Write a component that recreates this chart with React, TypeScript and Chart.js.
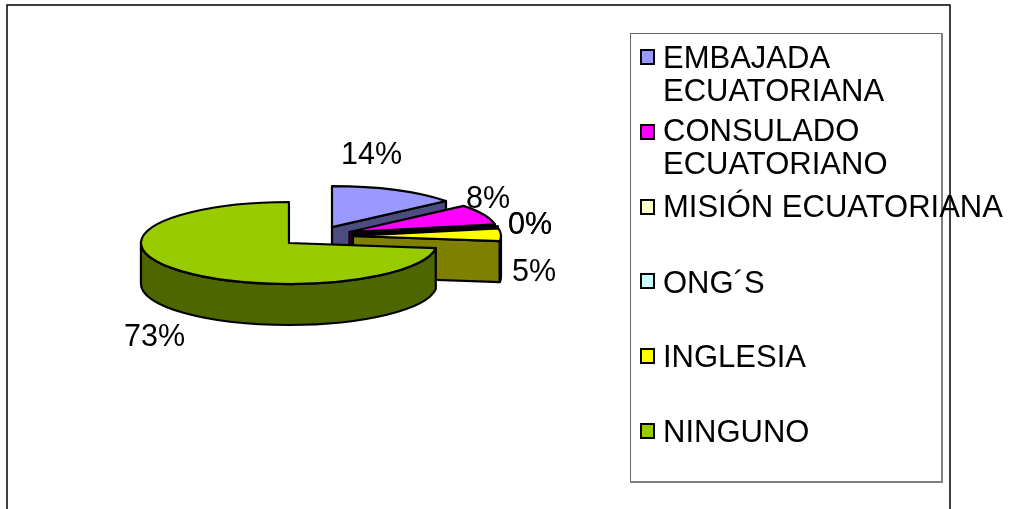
import React, { useEffect, useRef } from "react";
import { Chart, registerables } from "chart.js";

Chart.register(...registerables);

const categories = ["EMBAJADA ECUATORIANA", "CONSULADO ECUATORIANO", "MISIÓN ECUATORIANA", "ONG´S", "INGLESIA", "NINGUNO"];
const legendLines = [["EMBAJADA", "ECUATORIANA"], ["CONSULADO", "ECUATORIANO"], ["MISIÓN ECUATORIANA"], ["ONG´S"], ["INGLESIA"], ["NINGUNO"]];
const values = [14, 8, 0, 0, 5, 73];
const pctLabels = ["14%", "8%", "0%", "0%", "5%", "73%"];
const topColors = ["#9999FF", "#FF00FF", "#FFFFCC", "#CCFFFF", "#FFFF00", "#99CC00"];
const wallColors = ["#4C4C80", "#800080", "#808066", "#668080", "#808000", "#4D6600"];

// layout of the 3D view
const RADIUS = 148;
const SQUASH = 41 / 148;
const DEPTH = 41;
const EXPLODE = 36.6;
const CX = 316.4;
const CY = 236.3;
const LEGEND_FONT = '31px "Liberation Sans", Arial, sans-serif';
const LABEL_FONT = '30.5px "Liberation Sans", Arial, sans-serif';
const labelX = [341, 466, 508, 508, 512, 124];
const labelBase = [164, 208, 233.5, 233.5, 280.5, 346];
const legendBaselines = [[68, 100.5], [140.5, 173.5], [216.5], [292.5], [367], [442]];
const swatchTops = [49, 124, 199, 273, 348, 423];

const pie3d = {
  id: "pie3d",
  beforeDatasetsDraw(chart: any) {
    const ctx: CanvasRenderingContext2D = chart.ctx;
    const arcs = chart.getDatasetMeta(0).data;
    ctx.save();
    ctx.lineJoin = "round";
    ctx.lineWidth = 2.2;
    ctx.strokeStyle = "#000";
    arcs.forEach((arc: any, i: number) => {
      const { startAngle: a0, endAngle: a1, outerRadius: r } = arc;
      const mid = (a0 + a1) / 2;
      const ax = CX + Math.cos(mid) * EXPLODE;
      const ay = CY + Math.sin(mid) * EXPLODE * SQUASH;
      const px = (a: number) => ax + Math.cos(a) * r;
      const py = (a: number) => ay + Math.sin(a) * r * SQUASH;
      const paint = (fill: string) => {
        ctx.closePath();
        ctx.fillStyle = fill;
        ctx.fill();
        ctx.stroke();
      };
      const face = (a: number) => {
        ctx.beginPath();
        ctx.moveTo(ax, ay);
        ctx.lineTo(px(a), py(a));
        ctx.lineTo(px(a), py(a) + DEPTH);
        ctx.lineTo(ax, ay + DEPTH);
        paint(wallColors[i]);
      };
      if (Math.cos(a0) < -1e-6) face(a0);
      if (Math.cos(a1) > 1e-6) face(a1);
      // front part of the outer wall: canvas angles 0..PI (and 2PI..3PI)
      for (const k of [0, 2 * Math.PI]) {
        const s = Math.max(a0, k);
        const e = Math.min(a1, k + Math.PI);
        if (e > s) {
          ctx.beginPath();
          ctx.ellipse(ax, ay, r, r * SQUASH, 0, s, e);
          ctx.lineTo(px(e), py(e) + DEPTH);
          ctx.ellipse(ax, ay + DEPTH, r, r * SQUASH, 0, e, s, true);
          paint(wallColors[i]);
        }
      }
      ctx.beginPath();
      ctx.moveTo(ax, ay);
      ctx.ellipse(ax, ay, r, r * SQUASH, 0, a0, a1);
      paint(topColors[i]);
    });
    ctx.restore();
    return false;
  },
  afterDraw(chart: any) {
    const ctx: CanvasRenderingContext2D = chart.ctx;
    ctx.save();
    // outer frame
    ctx.strokeStyle = "#000";
    ctx.lineWidth = 1.5;
    ctx.strokeRect(7, 5, 943, 520);
    // legend box
    ctx.strokeStyle = "#666";
    ctx.lineWidth = 1;
    ctx.strokeRect(630.5, 33.5, 311, 448);
    ctx.strokeStyle = "#808080";
    ctx.lineWidth = 2;
    ctx.beginPath();
    ctx.moveTo(942, 33);
    ctx.lineTo(942, 482);
    ctx.lineTo(630, 482);
    ctx.stroke();
    ctx.textBaseline = "alphabetic";
    ctx.textAlign = "left";
    ctx.font = LEGEND_FONT;
    legendLines.forEach((lines, i) => {
      ctx.fillStyle = topColors[i];
      ctx.strokeStyle = "#000";
      ctx.lineWidth = 2;
      ctx.fillRect(641, swatchTops[i] + 1, 13, 14);
      ctx.strokeRect(641, swatchTops[i] + 1, 13, 14);
      ctx.fillStyle = "#000";
      lines.forEach((t, j) => ctx.fillText(t, 663, legendBaselines[i][j]));
    });
    ctx.font = LABEL_FONT;
    pctLabels.forEach((t, i) => ctx.fillText(t, labelX[i], labelBase[i]));
    ctx.restore();
  },
};

export default function App() {
  const ref = useRef<HTMLCanvasElement>(null);
  useEffect(() => {
    const chart = new Chart(ref.current as HTMLCanvasElement, {
      type: "pie",
      data: {
        labels: categories,
        datasets: [{ data: values, backgroundColor: topColors, borderColor: "#000", borderWidth: 0 }],
      },
      options: {
        responsive: false,
        animation: false,
        radius: RADIUS,
        layout: { padding: 0 },
        plugins: { legend: { display: false }, tooltip: { enabled: false } },
      } as any,
      plugins: [pie3d as any],
    });
    return () => chart.destroy();
  }, []);
  return (
    <div style={{ position: "fixed", left: 0, top: 0, width: 1010, height: 509, background: "#fff" }}>
      <canvas ref={ref} width={1010} height={509} style={{ display: "block" }} />
    </div>
  );
}
